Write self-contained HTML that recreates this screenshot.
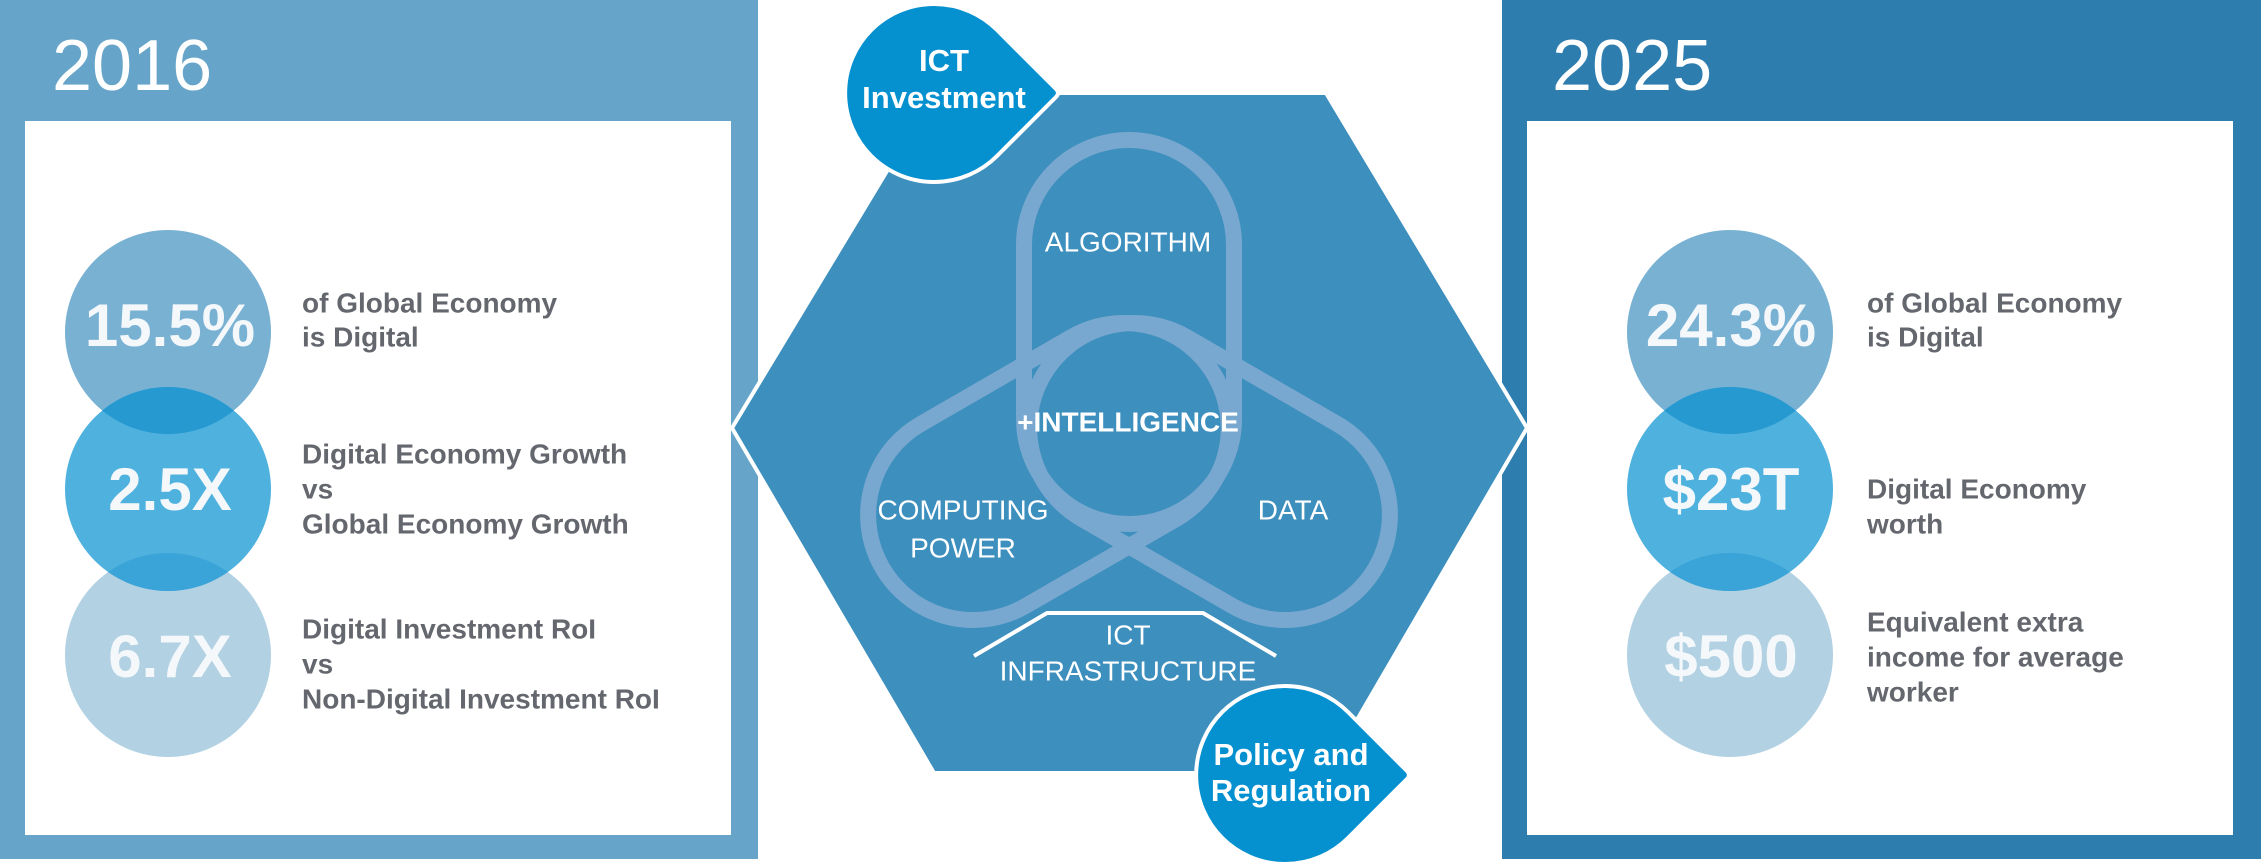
<!DOCTYPE html>
<html><head><meta charset="utf-8"><style>html,body{margin:0;padding:0;background:#fff}svg{display:block}</style></head>
<body>
<svg width="2261" height="868" viewBox="0 0 2261 868" xmlns="http://www.w3.org/2000/svg" font-family="'Liberation Sans', sans-serif">
<defs>
<clipPath id="lm"><ellipse cx="168" cy="489" rx="103" ry="102"/></clipPath>
<clipPath id="rm"><ellipse cx="1730" cy="489" rx="103" ry="102"/></clipPath>
</defs>
<rect x="0" y="0" width="758" height="859" fill="#66a5c9"/>
<rect x="25" y="121" width="706" height="714" fill="#fff"/>
<text x="52" y="90" font-size="72" fill="#fff">2016</text>
<ellipse cx="168" cy="332" rx="103" ry="102" fill="#79b1d3"/>
<ellipse cx="168" cy="655" rx="103" ry="102" fill="#b2d1e3"/>
<ellipse cx="168" cy="489" rx="103" ry="102" fill="#4fb1de"/>
<g clip-path="url(#lm)"><ellipse cx="168" cy="332" rx="103" ry="102" fill="#2599d0"/><ellipse cx="168" cy="655" rx="103" ry="102" fill="#3aa3d7"/></g>
<g font-weight="bold" fill="#f4f8fb" font-size="60" text-anchor="middle">
<text x="170" y="346">15.5%</text><text x="170" y="510">2.5X</text><text x="170" y="677">6.7X</text>
</g>
<g font-weight="bold" fill="#65676e" font-size="28" dominant-baseline="middle">
<text x="302" y="305">of Global Economy</text><text x="302" y="339">is Digital</text>
<text x="302" y="456">Digital Economy Growth</text><text x="302" y="491">vs</text><text x="302" y="526">Global Economy Growth</text>
<text x="302" y="631">Digital Investment RoI</text><text x="302" y="666">vs</text><text x="302" y="701">Non-Digital Investment RoI</text>
</g>
<rect x="1502" y="0" width="759" height="859" fill="#2e7daf"/>
<rect x="1527" y="121" width="706" height="714" fill="#fff"/>
<text x="1552" y="90" font-size="72" fill="#fff">2025</text>
<ellipse cx="1730" cy="332" rx="103" ry="102" fill="#79b1d3"/>
<ellipse cx="1730" cy="655" rx="103" ry="102" fill="#b2d1e3"/>
<ellipse cx="1730" cy="489" rx="103" ry="102" fill="#4fb1de"/>
<g clip-path="url(#rm)"><ellipse cx="1730" cy="332" rx="103" ry="102" fill="#2599d0"/><ellipse cx="1730" cy="655" rx="103" ry="102" fill="#3aa3d7"/></g>
<g font-weight="bold" fill="#f4f8fb" font-size="60" text-anchor="middle">
<text x="1731" y="346">24.3%</text><text x="1731" y="510">$23T</text><text x="1731" y="677">$500</text>
</g>
<g font-weight="bold" fill="#65676e" font-size="28" dominant-baseline="middle">
<text x="1867" y="305">of Global Economy</text><text x="1867" y="339">is Digital</text>
<text x="1867" y="491">Digital Economy</text><text x="1867" y="526">worth</text>
<text x="1867" y="624">Equivalent extra</text><text x="1867" y="659">income for average</text><text x="1867" y="694">worker</text>
</g>
<polygon points="732,428 934,93 1326,93 1527,428 1326,773 934,773" fill="#3d8fbe" stroke="#fff" stroke-width="4"/>
<g fill="none" stroke="#7fabd1" stroke-width="16" opacity="0.9">
<g transform="translate(1129,425)">
<path d="M-105,-180 A105,105 0 0 1 105,-180 L105,-6 A105,105 0 0 1 -105,-6 Z"/>
<path transform="rotate(120)" d="M-105,-180 A105,105 0 0 1 105,-180 L105,-6 A105,105 0 0 1 -105,-6 Z"/>
<path transform="rotate(240)" d="M-105,-180 A105,105 0 0 1 105,-180 L105,-6 A105,105 0 0 1 -105,-6 Z"/>
</g>
</g>
<polyline points="974,656 1047,613 1203,613 1276,656" fill="none" stroke="#fff" stroke-width="4"/>
<g fill="#fff" font-size="28" text-anchor="middle" dominant-baseline="middle">
<text x="1128" y="244">ALGORITHM</text>
<text x="1128" y="424" font-weight="bold">+INTELLIGENCE</text>
<text x="963" y="512">COMPUTING</text><text x="963" y="550">POWER</text>
<text x="1293" y="512">DATA</text>
<text x="1128" y="637">ICT</text><text x="1128" y="673">INFRASTRUCTURE</text>
</g>
<path d="M997,30 L1056,89 Q1060,93 1056,97 L997,156 A89,89 0 1 1 997,30 Z" fill="#0590cf" stroke="#fff" stroke-width="4"/>
<path d="M1348,712 L1407,771 Q1411,775 1407,779 L1348,838 A89,89 0 1 1 1348,712 Z" fill="#0590cf" stroke="#fff" stroke-width="4"/>
<g fill="#fff" font-size="31" font-weight="bold" text-anchor="middle" dominant-baseline="middle">
<text x="944" y="63">ICT</text><text x="944" y="100">Investment</text>
<text x="1291" y="757">Policy and</text><text x="1291" y="793">Regulation</text>
</g>
</svg>
</body></html>
